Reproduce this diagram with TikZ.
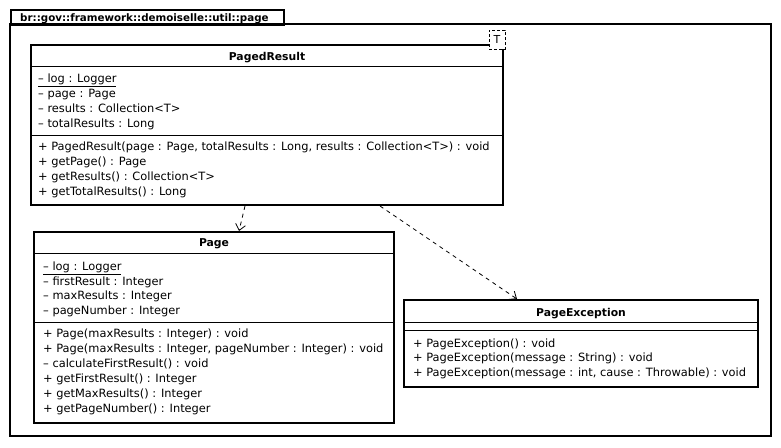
\documentclass[tikz,border=0pt]{standalone}
\usepackage{fontspec}
\setmainfont{DejaVu Sans}
\usetikzlibrary{arrows.meta, positioning, calc}

\tikzset{
	classbox/.style={draw, line width=2pt, anchor=north west, inner sep=0pt},
	sepline/.style={line width=1pt},
	member/.style={anchor=base west, inner sep=0pt, font=\fontsize{11.4}{13}\selectfont},
	classname/.style={anchor=base, inner sep=0pt, font=\bfseries\fontsize{10.8}{13}\selectfont},
	dep/.style={dash pattern=on 4pt off 4pt, line width=0.8pt, -{Straight Barb[length=6pt, width=10pt]}}
}

\begin{document}
\begin{tikzpicture}[x=1pt, y=-1pt]
			\useasboundingbox (0,0) rectangle (781,447);

			% Draw the package frame and its tab
			\draw[line width=2pt] (10,24) rectangle (771,436);
			\node[draw, line width=2pt, anchor=north west, minimum width=273pt, minimum height=15pt, inner sep=0pt] (pkgtab) at (10,9) {};
			\node[classname, anchor=base west, font=\bfseries\fontsize{10.3}{12}\selectfont] (pkgname) at (20,21) {br::gov::framework::demoiselle::util::page};

			% PagedResult
			\node[classbox, minimum width=472pt, minimum height=160pt] (paged) at (30,44) {};
			\draw[sepline] ($(paged.north west)+(0,22)$) -- ($(paged.north east)+(0,22)$);
			\draw[sepline] ($(paged.north west)+(0,91)$) -- ($(paged.north east)+(0,91)$);
			\node[classname] (pagedname) at ($(paged.north)+(0,16)$) {PagedResult};
			\node[draw, dash pattern=on 3pt off 2pt, line width=1pt, fill=white, minimum width=16pt, minimum height=19pt, inner sep=0pt, font=\fontsize{11}{12}\selectfont] (tparam) at (497,39.5) {T};

			\node[member] (pagedlog) at (38,82) {\underline{– log : Logger}};
			\node[member] (pagedpage) at (38,97) {– page : Page};
			\node[member] (pagedresults) at (38,112) {– results : Collection<T>};
			\node[member] (pagedtotal) at (38,127) {– totalResults : Long};

			\node[member] (pagedctor) at (38,150) {+ PagedResult(page : Page, totalResults : Long, results : Collection<T>) : void};
			\node[member] (pagedgetpage) at (38,165) {+ getPage() : Page};
			\node[member] (pagedgetresults) at (38,180) {+ getResults() : Collection<T>};
			\node[member] (pagedgettotal) at (38,195) {+ getTotalResults() : Long};

			% Page
			\node[classbox, minimum width=360pt, minimum height=191pt] (page) at (33,231) {};
			\draw[sepline] ($(page.north west)+(0,22)$) -- ($(page.north east)+(0,22)$);
			\draw[sepline] ($(page.north west)+(0,91)$) -- ($(page.north east)+(0,91)$);
			\node[classname] (pagename) at ($(page.north)+(0,15)$) {Page};

			\node[member] (pagelog) at (43,270) {\underline{– log : Logger}};
			\node[member] (pagefirst) at (43,285) {– firstResult : Integer};
			\node[member] (pagemax) at (43,299) {– maxResults : Integer};
			\node[member] (pagenumber) at (43,314) {– pageNumber : Integer};

			\node[member] (pagector) at (43,337) {+ Page(maxResults : Integer) : void};
			\node[member] (pagectortwo) at (43,352) {+ Page(maxResults : Integer, pageNumber : Integer) : void};
			\node[member] (pagecalc) at (43,367) {– calculateFirstResult() : void};
			\node[member] (pagegetfirst) at (43,382) {+ getFirstResult() : Integer};
			\node[member] (pagegetmax) at (43,397) {+ getMaxResults() : Integer};
			\node[member] (pagegetnumber) at (43,412) {+ getPageNumber() : Integer};

			% PageException
			\node[classbox, minimum width=354pt, minimum height=87pt] (pageexc) at (403,299) {};
			\draw[sepline] ($(pageexc.north west)+(0,23)$) -- ($(pageexc.north east)+(0,23)$);
			\draw[sepline] ($(pageexc.north west)+(0,31)$) -- ($(pageexc.north east)+(0,31)$);
			\node[classname] (pageexcname) at ($(pageexc.north)+(0,17)$) {PageException};

			\node[member] (pageexcctor) at (413,347) {+ PageException() : void};
			\node[member] (pageexcmsg) at (413,361) {+ PageException(message : String) : void};
			\node[member] (pageexccause) at (413,376) {+ PageException(message : int, cause : Throwable) : void};

			% Draw the dependencies
			\draw[dep] ($(paged.south west)+(215,0)$) -- ($(page.north west)+(206,0)$);
			\draw[dep] ($(paged.south west)+(350,0)$) -- ($(pageexc.north west)+(114,0)$);

\end{tikzpicture}
\end{document}
